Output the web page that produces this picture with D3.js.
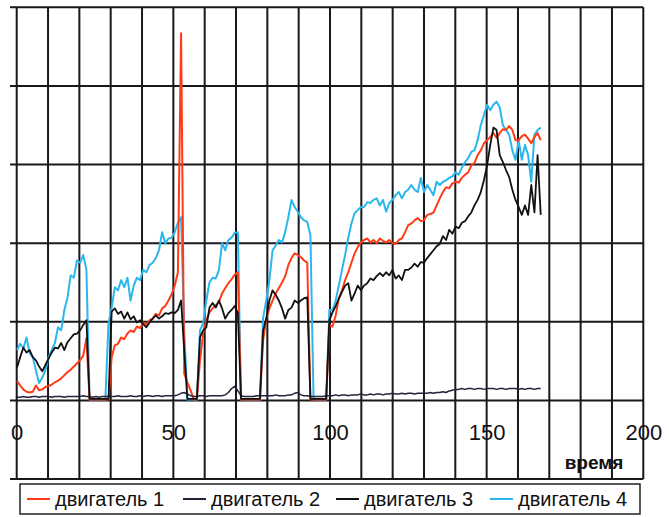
<!DOCTYPE html>
<html>
<head>
<meta charset="utf-8">
<script src="https://cdn.jsdelivr.net/npm/d3@7"></script>
<style>
  body { margin: 0; background: #fff; }
  svg { display: block; }
  text { font-family: "Liberation Sans", Arial, sans-serif; }
</style>
</head>
<body>
<svg id="chart" width="669" height="517"></svg>
<script>
// Sampling grid of the recorder: first reading and interval between readings
const sampleStart = 0.1;
const sampleStep = 1.007;
const time = d3.range(167).map(i => sampleStart + i * sampleStep);

// двигатель 1
const engine1 = [
  25,19,14,11,10,11,19,13,14,17,
  18,20,23,25,28,32,36,39,43,47,
  51,57,79,1,1,1,1,1,1,1,
  55,70,72,80,78,85,89,87,94,92,
  99,96,102,104,110,108,117,120,127,135,
  146,163,467,34,23,13,1,1,51,85,
  102,112,117,121,125,136,143,149,154,160,
  163,1,1,1,1,1,1,1,76,104,
  117,127,136,143,150,158,172,181,187,185,
  182,178,175,1,1,1,1,1,1,96,
  94,108,130,140,153,163,175,187,195,201,
  204,206,201,204,200,206,203,201,204,200,
  199,204,206,214,223,225,229,232,228,229,
  236,237,239,248,257,265,271,270,276,278,
  277,283,287,290,299,302,312,318,327,331,
  335,340,334,340,345,344,349,344,331,331,
  336,338,333,327,335,340,331
];

// двигатель 2
const engine2 = [
  4,4,5,4,4,5,5,4,5,5,
  5,4,5,5,5,4,5,5,5,5,
  5,6,5,5,4,5,4,5,5,5,
  5,5,6,5,5,5,6,5,5,6,
  5,6,6,5,6,6,5,6,6,6,
  6,7,9,10,8,6,5,5,6,6,
  5,6,6,6,6,6,7,10,15,18,
  12,6,5,5,5,5,6,6,6,6,
  6,6,7,6,6,6,7,7,9,10,
  7,6,6,5,5,5,5,5,6,6,
  6,7,6,7,7,6,7,7,7,8,
  7,7,8,7,8,8,7,8,8,9,
  8,8,9,8,9,9,8,9,9,9,
  9,10,9,10,10,11,10,12,13,14,
  14,15,14,15,15,14,15,15,14,15,
  15,15,14,15,15,14,15,15,15,14,
  15,14,15,15,14,15,15
];

// двигатель 3
const engine3 = [
  42,55,67,61,64,55,51,43,37,45,
  53,61,67,66,73,64,74,79,84,85,
  89,96,102,2,2,2,2,2,2,2,
  113,117,110,113,104,112,103,107,99,102,
  97,93,99,104,108,104,107,111,110,112,
  111,115,127,64,2,2,2,2,80,89,
  93,118,124,118,127,117,104,111,115,120,
  111,2,2,2,2,2,2,2,89,104,
  127,140,134,127,117,104,115,118,127,124,
  127,130,131,2,2,2,2,2,2,102,
  112,120,129,138,146,149,127,136,146,140,
  146,149,155,153,158,162,158,163,159,166,
  155,159,153,166,166,169,174,170,176,175,
  181,186,191,196,199,209,204,217,212,221,
  219,226,228,234,239,248,255,265,280,299,
  325,347,344,312,303,293,284,268,255,246,
  236,248,236,274,239,312,236
];

// двигатель 4
const engine4 = [
  64,72,66,80,60,55,38,22,29,38,
  55,64,73,93,89,115,131,159,156,178,
  175,185,166,1,1,1,1,1,1,98,
  118,144,140,153,144,156,127,146,156,153,
  166,163,172,175,181,191,214,200,206,207,
  214,226,233,89,1,1,1,1,89,98,
  127,150,156,155,166,200,191,204,207,213,
  214,1,1,1,1,1,1,1,105,127,
  153,191,197,204,201,214,233,255,246,240,
  233,229,227,210,1,1,1,1,1,115,
  115,127,146,166,185,207,225,238,242,246,
  246,252,251,255,257,248,255,240,251,255,
  261,265,257,265,268,274,268,265,283,265,
  274,268,261,278,274,278,280,283,285,290,
  287,296,303,308,316,318,331,350,363,376,
  369,376,380,373,350,344,338,318,306,331,
  306,325,312,278,338,344,347
];

const seriesNames  = ["двигатель 1", "двигатель 2", "двигатель 3", "двигатель 4"];
const seriesColors = ["#ff3c16", "#23233a", "#111111", "#2bb7ec"];
const seriesWidths = [2, 1.5, 1.8, 2];
const xTickValues  = [0, 50, 100, 150, 200];
const xTitle = "время";

const svg = d3.select("#chart");

const x = d3.scaleLinear().domain([0, 200]).range([16.7, 643.3]);
const y = d3.scaleLinear().domain([-100, 500]).range([479, 7.3]);

// grid
const grid = svg.append("g").attr("stroke", "#18181e").attr("stroke-width", 2);
grid.selectAll("line.h")
  .data(d3.range(-100, 501, 100))
  .join("line")
  .attr("class", "h")
  .attr("x1", 10).attr("x2", x(200))
  .attr("y1", d => y(d)).attr("y2", d => y(d));
grid.selectAll("line.v")
  .data(d3.range(0, 201, 10))
  .join("line")
  .attr("class", "v")
  .attr("x1", d => x(d)).attr("x2", d => x(d))
  .attr("y1", y(500)).attr("y2", y(-100));

// x axis labels along the zero line
const xAxis = d3.axisBottom(x).tickValues(xTickValues).tickSize(0).tickPadding(24)
  .tickFormat(d3.format("d"));
const ax = svg.append("g").attr("transform", `translate(0,${y(0)})`).call(xAxis);
ax.select(".domain").remove();
ax.selectAll("text").attr("font-size", 22).attr("fill", "#111")
  .attr("font-family", "Liberation Sans, Arial, sans-serif");

svg.append("text")
  .attr("x", 594).attr("y", 469)
  .attr("text-anchor", "middle")
  .attr("font-size", 19).attr("font-weight", "bold").attr("fill", "#111")
  .text(xTitle);

// series
const series = [engine1, engine2, engine3, engine4];
const line = d3.line().x((d, i) => x(time[i])).y(d => y(d));
const drawOrder = [3, 0, 1, 2];
svg.append("g").selectAll("path")
  .data(drawOrder)
  .join("path")
  .attr("d", k => line(series[k]))
  .attr("fill", "none")
  .attr("stroke", k => seriesColors[k])
  .attr("stroke-width", k => seriesWidths[k])
  .attr("stroke-linejoin", "round");

// legend
const legend = svg.append("g");
legend.append("rect")
  .attr("x", 20).attr("y", 484).attr("width", 620).attr("height", 30)
  .attr("fill", "#fff").attr("stroke", "#222").attr("stroke-width", 1.5);
const legendX = [27, 183, 336, 490];
const item = legend.selectAll("g.item")
  .data(seriesNames)
  .join("g")
  .attr("class", "item")
  .attr("transform", (d, i) => `translate(${legendX[i]},499)`);
item.append("line")
  .attr("x1", 0).attr("x2", 23).attr("y1", 0).attr("y2", 0)
  .attr("stroke", (d, i) => seriesColors[i]).attr("stroke-width", 2);
item.append("text")
  .attr("x", 28).attr("y", 7)
  .attr("font-size", 20).attr("fill", "#111")
  .text(d => d);
</script>
</body>
</html>
